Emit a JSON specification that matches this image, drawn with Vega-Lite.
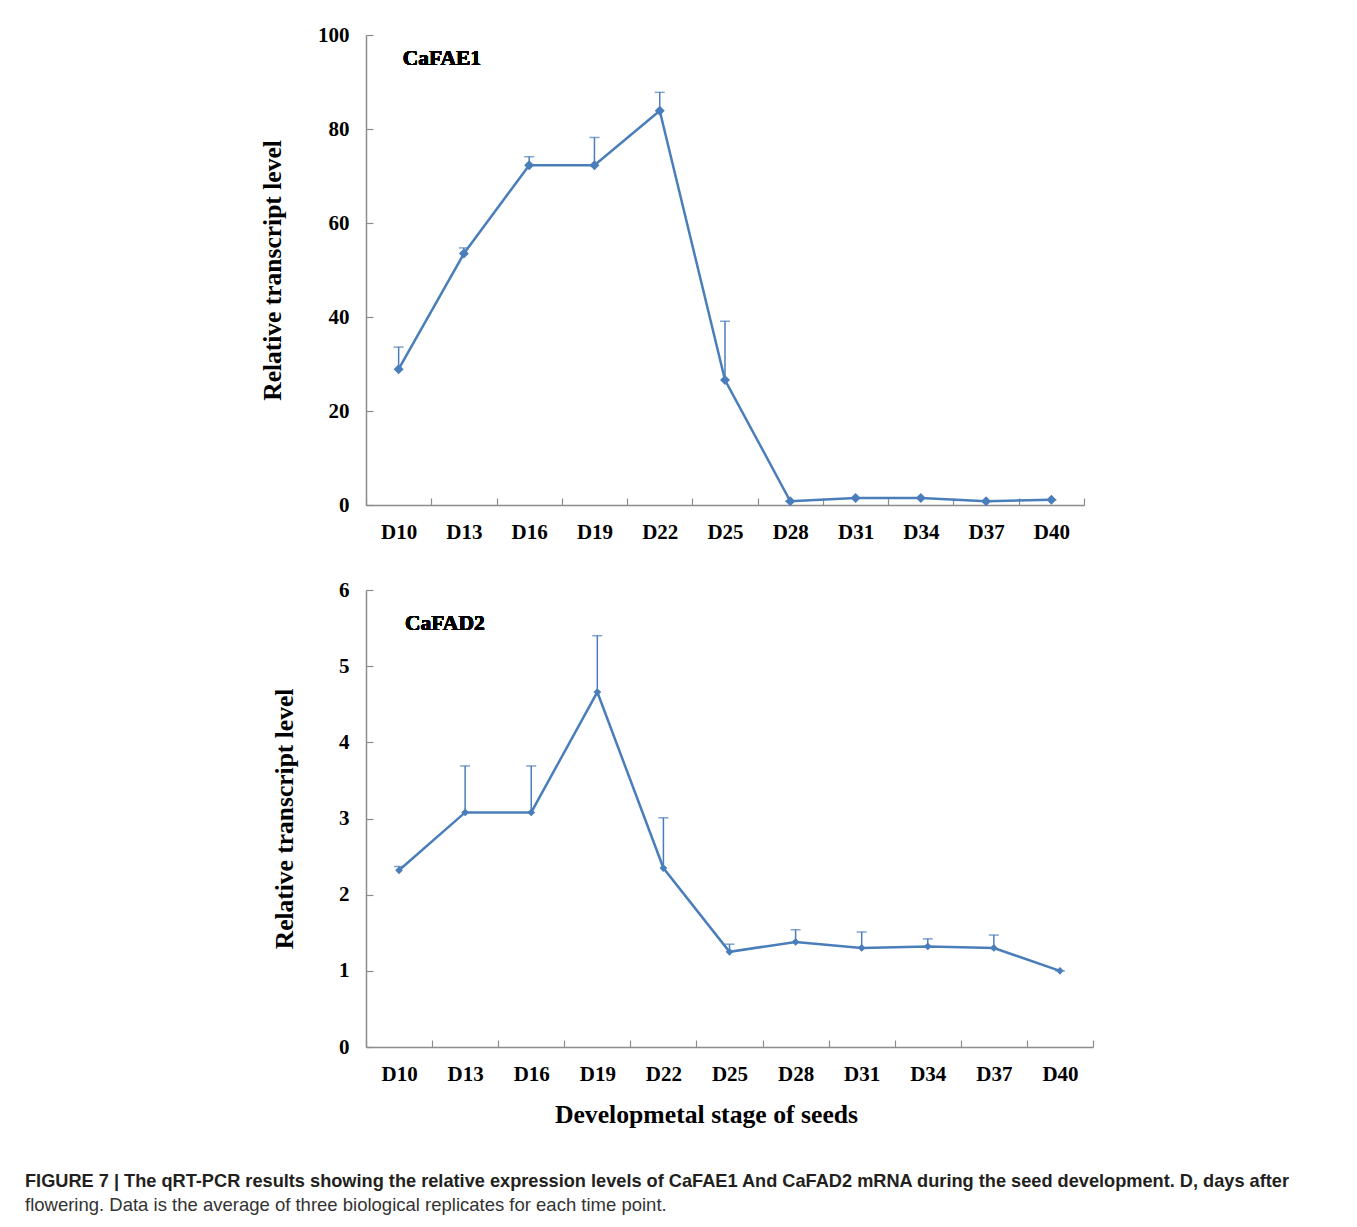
{
  "$schema": "https://vega.github.io/schema/vega-lite/v6.json",
  "padding": {"left": 25, "top": 24, "right": 20, "bottom": 10},
  "background": "white",
  "bounds": "flush",
  "spacing": 85,
  "datasets": {
    "fae1": [
      {"stage": "D10", "level": 28.9, "upper": 33.6},
      {"stage": "D13", "level": 53.5, "upper": 54.7},
      {"stage": "D16", "level": 72.3, "upper": 74.1},
      {"stage": "D19", "level": 72.3, "upper": 78.2},
      {"stage": "D22", "level": 83.9, "upper": 87.8},
      {"stage": "D25", "level": 26.6, "upper": 39.1},
      {"stage": "D28", "level": 0.8, "upper": 0.8},
      {"stage": "D31", "level": 1.5, "upper": 1.5},
      {"stage": "D34", "level": 1.5, "upper": 1.5},
      {"stage": "D37", "level": 0.8, "upper": 0.8},
      {"stage": "D40", "level": 1.1, "upper": 1.1}
    ],
    "fad2": [
      {"stage": "D10", "level": 2.32, "upper": 2.37},
      {"stage": "D13", "level": 3.08, "upper": 3.69},
      {"stage": "D16", "level": 3.08, "upper": 3.69},
      {"stage": "D19", "level": 4.66, "upper": 5.40},
      {"stage": "D22", "level": 2.35, "upper": 3.01},
      {"stage": "D25", "level": 1.25, "upper": 1.35},
      {"stage": "D28", "level": 1.38, "upper": 1.54},
      {"stage": "D31", "level": 1.30, "upper": 1.51},
      {"stage": "D34", "level": 1.32, "upper": 1.42},
      {"stage": "D37", "level": 1.30, "upper": 1.47},
      {"stage": "D40", "level": 1.00, "upper": 1.00}
    ]
  },
  "title": {
    "text": "FIGURE 7 | The qRT-PCR results showing the relative expression levels of CaFAE1 And CaFAD2 mRNA during the seed development. D, days after",
    "subtitle": "flowering. Data is the average of three biological replicates for each time point.",
    "orient": "bottom",
    "anchor": "start",
    "frame": "group",
    "dx": -341,
    "offset": 46,
    "font": "Liberation Sans",
    "fontSize": 18.2,
    "fontWeight": "bold",
    "color": "#231f20",
    "subtitleFont": "Liberation Sans",
    "subtitleFontSize": 18.5,
    "subtitleColor": "#333333",
    "subtitlePadding": 5
  },
  "vconcat": [
    {
      "width": 718,
      "height": 470,
      "data": {"name": "fae1"},
      "encoding": {
        "x": {
          "field": "stage", "type": "ordinal", "sort": null,
          "scale": {"type": "band", "paddingInner": 0, "paddingOuter": 0},
          "axis": {"title": null, "tickBand": "extent", "labelAngle": 0, "labelPadding": 23}
        },
        "y": {
          "field": "level", "type": "quantitative",
          "scale": {"domain": [0, 100]},
          "axis": {"title": "Relative transcript level", "values": [0, 20, 40, 60, 80, 100], "labelPadding": 24, "titlePadding": 32}
        }
      },
      "layer": [
        {"mark": {"type": "rule", "color": "#4a7ebb", "strokeWidth": 1.5}, "encoding": {"y2": {"field": "upper"}}},
        {"mark": {"type": "tick", "color": "#4a7ebb", "thickness": 1.5, "size": 10}, "encoding": {"y": {"field": "upper", "type": "quantitative"}}},
        {"mark": {"type": "line", "color": "#4a7ebb", "strokeWidth": 2.5}},
        {"mark": {"type": "point", "shape": "diamond", "filled": true, "opacity": 1, "color": "#4a7ebb", "size": 100}},
        {
          "mark": {"type": "text", "align": "left", "baseline": "middle", "dx": 4, "font": "Liberation Serif", "fontWeight": "bold", "fontSize": 21.5, "color": "#000"},
          "encoding": {"x": {"datum": "D10"}, "y": {"datum": 95}, "text": {"value": "CaFAE1"}}
        }
      ]
    },
    {
      "width": 727,
      "height": 457,
      "data": {"name": "fad2"},
      "encoding": {
        "x": {
          "field": "stage", "type": "ordinal", "sort": null,
          "scale": {"type": "band", "paddingInner": 0, "paddingOuter": 0},
          "axis": {"title": "Developmetal stage of seeds", "tickBand": "extent", "labelAngle": 0, "labelPadding": 23, "titleFontSize": 25.7, "titlePadding": 18, "titleX": 340}
        },
        "y": {
          "field": "level", "type": "quantitative",
          "scale": {"domain": [0, 6]},
          "axis": {"title": "Relative transcript level", "values": [0, 1, 2, 3, 4, 5, 6], "labelPadding": 24, "titlePadding": 41}
        }
      },
      "layer": [
        {"mark": {"type": "rule", "color": "#4a7ebb", "strokeWidth": 1.5}, "encoding": {"y2": {"field": "upper"}}},
        {"mark": {"type": "tick", "color": "#4a7ebb", "thickness": 1.5, "size": 10}, "encoding": {"y": {"field": "upper", "type": "quantitative"}}},
        {"mark": {"type": "line", "color": "#4a7ebb", "strokeWidth": 2.5}},
        {"mark": {"type": "point", "shape": "diamond", "filled": true, "opacity": 1, "color": "#4a7ebb", "size": 60}},
        {
          "mark": {"type": "text", "align": "left", "baseline": "middle", "dx": 6, "font": "Liberation Serif", "fontWeight": "bold", "fontSize": 21.5, "color": "#000"},
          "encoding": {"x": {"datum": "D10"}, "y": {"datum": 5.55}, "text": {"value": "CaFAD2"}}
        }
      ]
    }
  ],
  "config": {
    "view": {"stroke": null},
    "axis": {
      "grid": false,
      "domainColor": "#8c8c8c",
      "domainWidth": 1.5,
      "tickColor": "#8c8c8c",
      "tickWidth": 1.2,
      "tickSize": -7,
      "labelFont": "Liberation Serif",
      "labelFontWeight": "bold",
      "labelFontSize": 21,
      "labelColor": "#000",
      "titleFont": "Liberation Serif",
      "titleFontWeight": "bold",
      "titleFontSize": 25.5,
      "titleColor": "#000"
    }
  }
}
